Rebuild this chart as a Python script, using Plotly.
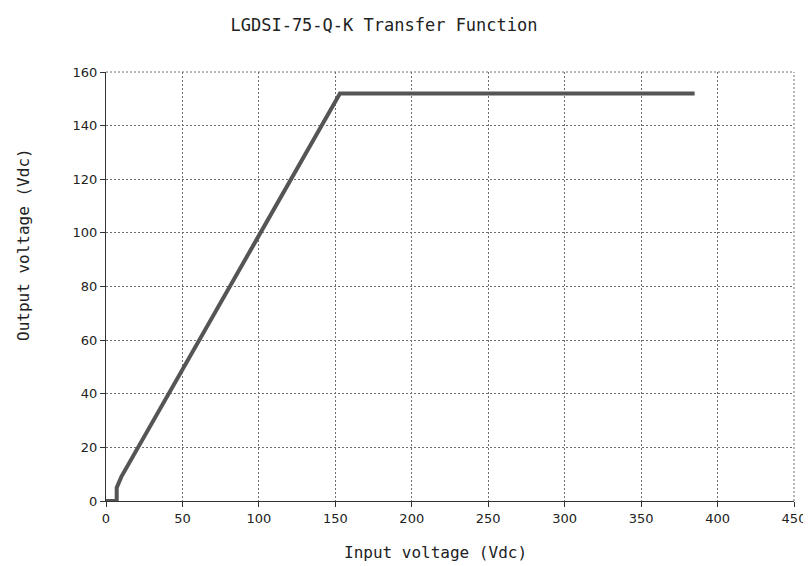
import plotly.graph_objects as go

input_v = [0, 7, 7, 10, 153, 385]
output_v = [0, 0, 5, 9, 152, 152]
x_ticks = [0, 50, 100, 150, 200, 250, 300, 350, 400, 450]
y_ticks = [0, 20, 40, 60, 80, 100, 120, 140, 160]

MONO = "DejaVu Sans Mono"
SANS = "DejaVu Sans"
GRID = "#6f6f6f"
AXIS = "#333333"
TXT = "#222222"

# page body has an 8px margin, so figure coords = screen coords - 8
W, H = 803, 558
L, T, R, B = 98, 64, 17, 65

fig = go.Figure()
fig.add_trace(go.Scatter(x=input_v, y=output_v, mode="lines",
                         line=dict(color="#555555", width=4),
                         showlegend=False, hoverinfo="skip"))

fig.add_shape(type="line", xref="paper", yref="paper", x0=0, x1=1, y0=1, y1=1,
              line=dict(color=GRID, width=1, dash="2px,2px"), layer="below")
fig.add_shape(type="line", xref="paper", yref="paper", x0=1, x1=1, y0=0, y1=1,
              line=dict(color=GRID, width=1, dash="2px,2px"), layer="below")

pw, ph = W - L - R, H - T - B
def px(xs):  # screen x -> paper
    return (xs - 8 - L) / pw
def py(ys):  # screen y -> paper
    return 1 - (ys - 8 - T) / ph

fig.add_annotation(text="Input voltage (Vdc)", xref="paper", yref="paper",
                   x=px(435), y=py(552), xanchor="center", yanchor="middle",
                   showarrow=False, font=dict(family=MONO, size=16, color=TXT))
fig.add_annotation(text="Output voltage (Vdc)", xref="paper", yref="paper",
                   x=px(23), y=py(245), xanchor="center", yanchor="middle", textangle=-90,
                   showarrow=False, font=dict(family=MONO, size=16, color=TXT))

fig.update_layout(
    width=W, height=H,
    paper_bgcolor="white", plot_bgcolor="white",
    margin=dict(l=L, r=R, t=T, b=B),
    font=dict(family=SANS, size=13, color=TXT),
    title=dict(text="LGDSI-75-Q-K Transfer Function", x=(384 - 8) / W, xanchor="center",
               y=1 - (25 - 8) / H, yanchor="middle", font=dict(size=17, family=MONO, color=TXT)),
)
fig.update_xaxes(range=[0, 450], tickvals=x_ticks, ticktext=[str(v) for v in x_ticks],
                 showgrid=True, gridcolor=GRID, griddash="2px,2px", gridwidth=1,
                 showline=True, linecolor=AXIS, linewidth=1,
                 ticks="outside", ticklen=5, tickcolor=AXIS,
                 zeroline=False, automargin=False,
                 tickfont=dict(size=13))
fig.update_yaxes(range=[0, 160], tickvals=y_ticks, ticktext=[str(v) for v in y_ticks],
                 showgrid=True, gridcolor=GRID, griddash="2px,2px", gridwidth=1,
                 showline=True, linecolor=AXIS, linewidth=1,
                 ticks="outside", ticklen=5, tickcolor=AXIS,
                 zeroline=False, automargin=False,
                 tickfont=dict(size=13))

fig.write_html("out.html")
